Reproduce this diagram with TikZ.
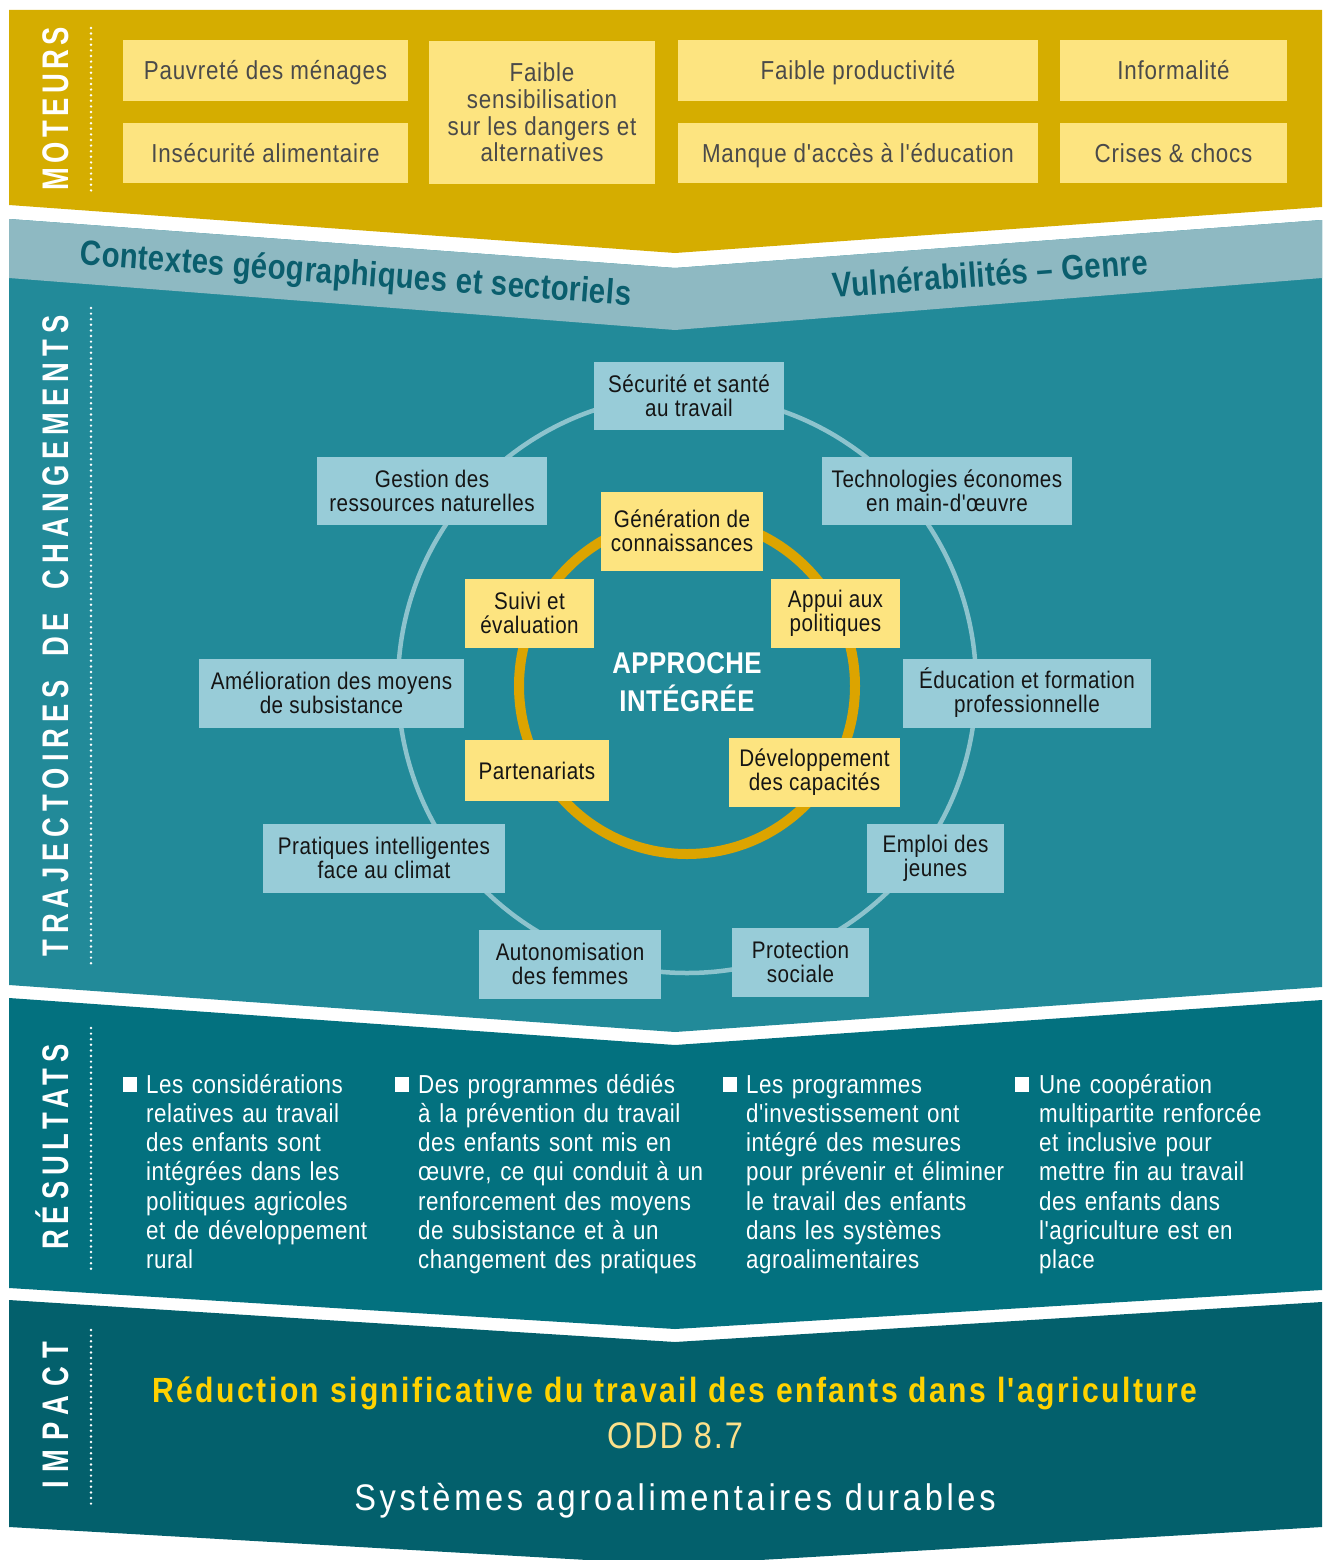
\documentclass[tikz,border=0pt]{standalone}
\usepackage{fontspec}
\setmainfont[FakeStretch=0.86]{Liberation Sans}
\newfontfamily\fcond[FakeStretch=0.86,LetterSpace=2]{Liberation Sans}
\newfontfamily\fmot[FakeStretch=0.86,LetterSpace=3]{Liberation Sans}
\newfontfamily\fcondb[FakeStretch=0.84,LetterSpace=1]{Liberation Sans}
\newfontfamily\fappr[FakeStretch=0.86,LetterSpace=1.5]{Liberation Sans}
\newfontfamily\flabel[FakeStretch=0.74,LetterSpace=16]{Liberation Sans}
\newfontfamily\fimpact[FakeStretch=0.86,LetterSpace=7]{Liberation Sans}
\newfontfamily\fimpactr[FakeStretch=0.88,LetterSpace=10]{Liberation Sans}
\definecolor{goldband}{HTML}{D5AD00}
\definecolor{ctxband}{HTML}{8EB9C2}
\definecolor{trajband}{HTML}{228A99}
\definecolor{resband}{HTML}{03717F}
\definecolor{impband}{HTML}{03606C}
\definecolor{motbox}{HTML}{FDE480}
\definecolor{mottext}{HTML}{4A4A4A}
\definecolor{circbox}{HTML}{98CCD8}
\definecolor{yelbox}{HTML}{FDE480}
\definecolor{boxtext}{HTML}{151515}
\definecolor{outerring}{HTML}{8DC3CD}
\definecolor{innerring}{HTML}{DCA400}
\definecolor{ctxtext}{HTML}{0A5E6D}
\definecolor{impyel}{HTML}{FFD200}
\definecolor{oddyel}{HTML}{FDE08A}
\tikzset{
  mbox/.style={fill=motbox,text=mottext,inner sep=0pt,align=center,
    font=\fmot\fontsize{26}{26.7}\selectfont},
  oneline/.style={text height=18.7pt,text depth=0pt},
  cbox/.style={fill=circbox,text=boxtext,inner sep=0pt,align=center,
    font=\fcond\fontsize{24}{24}\selectfont},
  ybox/.style={cbox,fill=yelbox},
  vlabel/.style={rotate=90,anchor=base,text=white,inner sep=0pt,
    font=\flabel\bfseries\fontsize{37}{40}\selectfont},
  dotline/.style={white,line width=2.7pt,dash pattern=on 0pt off 5.6pt,line cap=round},
  restext/.style={text=white,inner sep=0pt,align=left,text width=300pt,anchor=base west,
    font=\fcond\fontsize{26}{29.3}\selectfont},
  bulletsq/.style={fill=white,inner sep=0pt,minimum width=14.5pt,minimum height=15pt},
  ctxlabel/.style={text=ctxtext,inner sep=0pt,anchor=base,
    font=\fcondb\bfseries\fontsize{35}{38}\selectfont},
}
\begin{document}
\begin{tikzpicture}[x=1pt,y=-1pt]
\path[use as bounding box] (0,0) rectangle (1322,1560);
\begin{scope}
\clip (0,0) rectangle (1322,1560);
% bands
\fill[goldband] (9,10) -- (1322,10) -- (1322,207) -- (675,253) -- (9,205) -- cycle;
\fill[trajband] (9,219) -- (675,268) -- (1322,220) -- (1322,987) -- (675,1032) -- (9,985) -- cycle;
\fill[ctxband] (9,219) -- (675,268) -- (1322,220) -- (1322,278) -- (675,330) -- (9,278) -- cycle;
\fill[resband] (9,998) -- (675,1045) -- (1322,1000) -- (1322,1290) -- (675,1329) -- (9,1288) -- cycle;
\fill[impband] (9,1300) -- (675,1342) -- (1322,1302) -- (1322,1527) -- (675,1565) -- (9,1527) -- cycle;
\end{scope}
% dotted separators
\draw[dotline] (91,28) -- (91,191);
\draw[dotline] (91,308) -- (91,966);
\draw[dotline] (91,1028) -- (91,1272);
\draw[dotline] (91,1330) -- (91,1508);
% vertical labels
\node[vlabel] (lmot) at (68,108.5) {\addfontfeature{LetterSpace=12}MOTEURS};
\node[vlabel] (ltraj) at (68,636) {TRAJECTOIRES\hspace{10pt} DE\hspace{10pt} CHANGEMENTS};
\node[vlabel] (lres) at (68,1147) {RÉSULTATS};
\node[vlabel] (limp) at (68,1415) {\addfontfeature{LetterSpace=24}IMPACT};
% moteurs
\node[mbox,oneline,minimum width=285,minimum height=61] (m1) at (265.5,70.5) {Pauvreté des ménages};
\node[mbox,oneline,minimum width=285,minimum height=60] (m2) at (265.5,153) {Insécurité alimentaire};
\node[mbox,minimum width=226,minimum height=143] (m3) at (542,112.5) {Faible\\sensibilisation\\sur les dangers et\\alternatives};
\node[mbox,oneline,minimum width=360,minimum height=61] (m4) at (858,70.5) {Faible productivité};
\node[mbox,oneline,minimum width=360,minimum height=60] (m5) at (858,153) {Manque d'accès à l'éducation};
\node[mbox,oneline,minimum width=227,minimum height=61] (m6) at (1173.5,70.5) {Informalité};
\node[mbox,oneline,minimum width=227,minimum height=60] (m7) at (1173.5,153) {Crises \& chocs};
% context band texts
\node[ctxlabel,rotate=-4.2] (ctx) at (355,285) {Contextes géographiques et sectoriels};
\node[ctxlabel,rotate=4.3] (vul) at (991,286) {Vulnérabilités – Genre};
% rings
\draw[outerring,line width=4.5pt] (687,684) circle[radius=289pt];
\draw[innerring,line width=10pt] (687,686) circle[radius=168pt];
% outer boxes
\node[cbox,minimum width=190,minimum height=68] (secu) at (689,395.5) {Sécurité et santé\\au travail};
\node[cbox,minimum width=230,minimum height=68] (gest) at (432,490.5) {Gestion des\\ressources naturelles};
\node[cbox,minimum width=250,minimum height=68] (tech) at (947,490.5) {Technologies économes\\en main-d'œuvre};
\node[cbox,minimum width=265,minimum height=69] (amel) at (331.5,693) {Amélioration des moyens\\de subsistance};
\node[cbox,minimum width=248,minimum height=69] (educ) at (1027,693) {Éducation et formation\\professionnelle};
\node[cbox,minimum width=242,minimum height=69] (prat) at (384,858) {Pratiques intelligentes\\face au climat};
\node[cbox,minimum width=137,minimum height=69] (empl) at (935.5,858) {Emploi des\\jeunes};
\node[cbox,minimum width=182,minimum height=69] (auto) at (570,964) {Autonomisation\\des femmes};
\node[cbox,minimum width=137,minimum height=69] (prot) at (800.5,962) {Protection\\sociale};
% inner boxes
\node[ybox,minimum width=162,minimum height=79] (gene) at (682,531) {Génération de\\connaissances};
\node[ybox,minimum width=129,minimum height=69] (suiv) at (529.5,613) {Suivi et\\évaluation};
\node[ybox,minimum width=129,minimum height=69] (appu) at (835.5,613) {Appui aux\\politiques};
\node[ybox,oneline,text height=17pt,minimum width=144,minimum height=61] (part) at (537,770.5) {Partenariats};
\node[ybox,minimum width=171,minimum height=69] (deve) at (814.5,772) {Développement\\des capacités};
\node[text=white,inner sep=0pt,align=center,font=\fappr\bfseries\fontsize{30}{38}\selectfont] (appr) at (687,682) {APPROCHE\\INTÉGRÉE};
% results
\node[bulletsq] (b1) at (130,1084.5) {};
\node[bulletsq] (b2) at (402,1084.5) {};
\node[bulletsq] (b3) at (730,1084.5) {};
\node[bulletsq] (b4) at (1022,1084.5) {};
\node[restext] (r1) at (146,1093) {Les considérations\\relatives au travail\\des enfants sont\\intégrées dans les\\politiques agricoles\\et de développement\\rural};
\node[restext] (r2) at (418,1093) {Des programmes dédiés\\à la prévention du travail\\des enfants sont mis en\\œuvre, ce qui conduit à un\\renforcement des moyens\\de subsistance et à un\\changement des pratiques};
\node[restext] (r3) at (746,1093) {Les programmes\\d'investissement ont\\intégré des mesures\\pour prévenir et éliminer\\le travail des enfants\\dans les systèmes\\agroalimentaires};
\node[restext] (r4) at (1039,1093) {Une coopération\\multipartite renforcée\\et inclusive pour\\mettre fin au travail\\des enfants dans\\l'agriculture est en\\place};
% impact
\node[text=impyel,inner sep=0pt,anchor=base,font=\fimpact\bfseries\fontsize{35}{38}\selectfont] (imp1) at (675,1402) {Réduction significative du travail des enfants dans l'agriculture};
\node[text=oddyel,inner sep=0pt,anchor=base,font=\fimpactr\fontsize{37}{40}\selectfont] (odd) at (675,1448) {\addfontfeature{LetterSpace=5}ODD 8.7};
\node[text=white,inner sep=0pt,anchor=base,font=\fimpactr\fontsize{37}{40}\selectfont] (sys) at (675,1510) {Systèmes agroalimentaires durables};
\end{tikzpicture}
\end{document}
